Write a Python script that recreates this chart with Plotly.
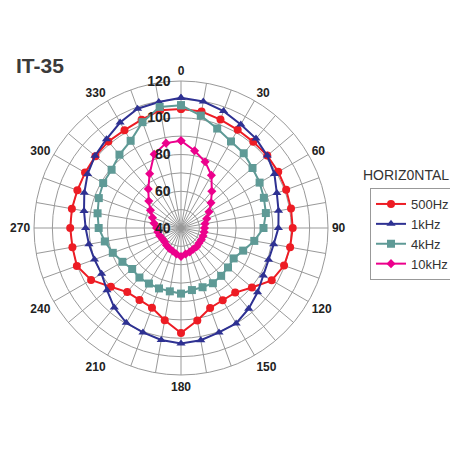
import plotly.graph_objects as go

angles = list(range(0, 360, 10))

# levels in dB, one value per 10 degrees
hz500 = [104.7, 104.4, 102.8, 101.7, 101.2, 101.3, 101.1, 100.9, 100.8, 100.8,
         100.3, 99.7, 97.0, 90.4, 85.9, 85.4, 86.3, 91.1, 97.1, 91.0,
         86.2, 85.2, 85.5, 89.8, 96.5, 100.3, 100.0, 100.3, 100.3, 100.0,
         100.3, 100.8, 101.5, 101.5, 102.7, 105.1]
khz1 = [110.9, 109.9, 107.7, 105.1, 103.5, 101.3, 98.7, 95.5, 93.9, 93.0,
        91.2, 90.7, 91.7, 94.4, 97.3, 100.0, 100.5, 102.0, 102.9, 101.9,
        100.5, 99.6, 96.5, 92.6, 89.9, 90.1, 90.9, 91.9, 93.6, 96.0,
        98.7, 101.1, 103.1, 106.3, 109.1, 109.6]
khz4 = [106.8, 102.1, 97.6, 94.4, 93.1, 90.8, 89.4, 88.0, 86.9, 84.9,
        80.5, 76.0, 73.1, 73.4, 74.0, 74.7, 74.3, 74.3, 75.7, 75.0,
        75.0, 74.9, 75.2, 74.7, 76.8, 79.5, 82.1, 84.8, 86.1, 87.6,
        88.9, 89.3, 92.1, 94.8, 101.3, 106.9]
khz10 = [87.5, 82.7, 78.4, 73.1, 66.1, 61.3, 57.6, 54.9, 53.3, 52.8,
         52.8, 52.8, 52.8, 52.8, 53.3, 53.3, 53.9, 54.4, 55.5, 54.4,
         53.3, 52.8, 52.3, 51.7, 51.7, 52.3, 52.8, 53.3, 54.9, 56.5,
         59.2, 62.9, 67.7, 74.1, 82.7, 86.9]

series = [
    ("500Hz", hz500, "#ed1c24", "circle", 8),
    ("1kHz", khz1, "#2e3192", "triangle-up", 8),
    ("4kHz", khz4, "#5f9a96", "square", 8),
    ("10kHz", khz10, "#ec008c", "diamond", 7),
]

r_ticks = list(range(40, 121, 10))
a_labels = [str(a) if a % 30 == 0 else "" for a in angles]


def r_label(v):
    # labels sit just left of the 0-degree spoke
    if v % 20:
        return ""
    return str(v) + "\u00a0\u00a0"


r_labels = [r_label(v) for v in r_ticks]

fig = go.Figure()
for name, vals, color, symbol, size in series:
    fig.add_trace(go.Scatterpolar(
        r=vals + vals[:1],
        theta=angles + angles[:1],
        mode="lines+markers",
        name=name,
        line=dict(color=color, width=2),
        marker=dict(symbol=symbol, size=size, color=color),
    ))

font = "Arial, Liberation Sans, sans-serif"
W = 458.0
off = 8  # page body margin

fig.update_layout(
    width=458,
    height=458,
    margin=dict(l=0, r=0, t=0, b=0),
    paper_bgcolor="white",
    font=dict(family=font, color="#222"),
    polar=dict(
        domain=dict(x=[(34 - off) / W, (328 - off) / W],
                    y=[1 - (375 - off) / W, 1 - (81 - off) / W]),
        bgcolor="white",
        angularaxis=dict(
            rotation=90,
            direction="clockwise",
            tickmode="array",
            tickvals=angles,
            ticktext=a_labels,
            ticks="outside",
            ticklen=1,
            tickcolor="rgba(0,0,0,0)",
            showline=True,
            linecolor="#999",
            linewidth=1,
            gridcolor="#999",
            gridwidth=0.7,
            tickfont=dict(size=12, family=font, color="#222", weight="bold"),
        ),
        radialaxis=dict(
            range=[40, 120],
            angle=90,
            tickangle=90,
            side="counterclockwise",
            tickmode="array",
            tickvals=r_ticks,
            ticktext=r_labels,
            showline=False,
            ticks="",
            gridcolor="#999",
            gridwidth=0.7,
            tickfont=dict(size=14, family=font, color="#222", weight="bold"),
        ),
    ),
    legend=dict(
        x=(370 - off) / W,
        y=1 - (188 - off) / W,
        xanchor="left",
        yanchor="top",
        bordercolor="#999",
        borderwidth=1,
        font=dict(size=13, family=font, color="#333"),
        itemwidth=30,
    ),
    annotations=[
        dict(text="HORIZ0NTAL", x=(406 - off) / W, y=1 - (175 - off) / W,
             xref="paper", yref="paper", xanchor="center", yanchor="middle",
             showarrow=False, font=dict(size=14, family=font, color="#333")),
        dict(text="IT-35", x=(14 - off) / W, y=1 - (65 - off) / W,
             xref="paper", yref="paper", xanchor="left", yanchor="middle",
             showarrow=False,
             font=dict(size=21, family=font, color="#3a3a3a", weight="bold")),
    ],
)

fig.write_html("out.html")
